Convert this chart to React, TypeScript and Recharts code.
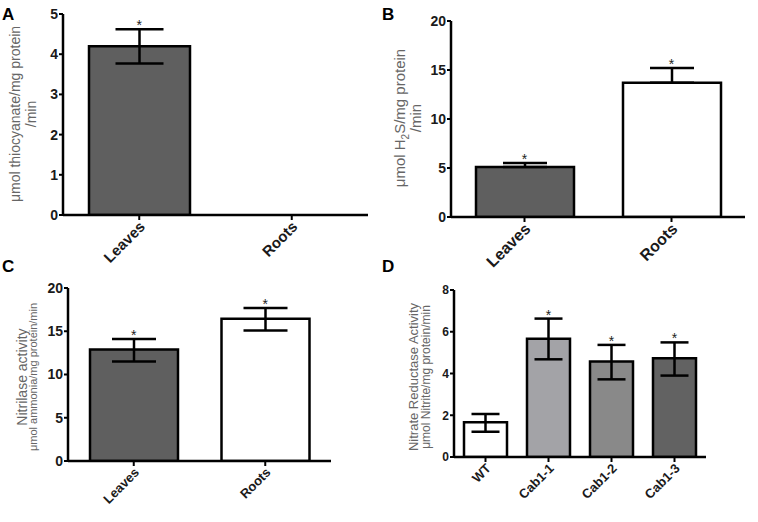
import React from "react";
import {
  ComposedChart,
  Bar,
  Cell,
  ErrorBar,
  Scatter,
  XAxis,
  YAxis,
  Customized,
} from "recharts";

const FONT = "'Liberation Sans', Arial, Helvetica, sans-serif";

// A - thiocyanate forming activity
const tissues = ["Leaves", "Roots"];
const thioMean = [4.2, 0];
const thioErrLo = [0.43, null];
const thioErrHi = [0.42, null];
const thioStar = [true, false];

// B - H2S release
const h2sMean = [5.1, 13.7];
const h2sErrLo = [0, 0];
const h2sErrHi = [0.4, 1.5];
const h2sStar = [true, true];

// C - nitrilase
const nitMean = [12.9, 16.45];
const nitErrLo = [1.4, 1.35];
const nitErrHi = [1.2, 1.25];
const nitStar = [true, true];

// D - nitrate reductase
const lines = ["WT", "Cab1-1", "Cab1-2", "Cab1-3"];
const nrMean = [1.66, 5.67, 4.57, 4.73];
const nrErrLo = [0.45, 0.99, 0.85, 0.83];
const nrErrHi = [0.4, 0.96, 0.8, 0.76];
const nrStar = [false, true, true, true];

const DARK = "#5f5f5f";
const fillsAB = [DARK, "#ffffff"];
const fillsD = ["#ffffff", "#a3a3a7", "#898989", "#626262"];

type Row = { name: string; v: number; err: number[] | null; star: number | null };

function rows(
  names: string[],
  mean: number[],
  lo: (number | null)[],
  hi: (number | null)[],
  star: boolean[]
): Row[] {
  return names.map((name, i) => ({
    name,
    v: mean[i],
    err: lo[i] == null || hi[i] == null ? null : [lo[i] as number, hi[i] as number],
    star: star[i] ? mean[i] + ((hi[i] as number) || 0) : null,
  }));
}

function SlantTick(props: any) {
  const { x, y, payload, fontSize } = props;
  const ax = x + 3;
  return (
    <text
      x={ax}
      y={y}
      transform={`rotate(-45 ${ax} ${y})`}
      textAnchor="end"
      dy="0.35em"
      fontSize={fontSize}
      fontWeight="bold"
      fontFamily={FONT}
      fill="#1a1a1a"
    >
      {payload.value}
    </text>
  );
}

function StarMark(props: any) {
  const { cx, cy, payload } = props;
  if (cy == null || payload.star == null) return null;
  return (
    <text x={cx} y={cy + 1} textAnchor="middle" fontSize={14} fontFamily={FONT} fill="#222">
      *
    </text>
  );
}

type LabelLine = { text: React.ReactNode; x: number; size: number };

function PanelText({ letter, ly, labels, labelY }: { letter: string; ly: number; labels: LabelLine[]; labelY: number }) {
  return (
    <g fontFamily={FONT}>
      <text x={2} y={ly} fontSize={17} fontWeight="bold" fill="#000">
        {letter}
      </text>
      {labels.map((l, i) => (
        <text
          key={i}
          x={l.x}
          y={labelY}
          transform={`rotate(-90 ${l.x} ${labelY})`}
          textAnchor="middle"
          dy="0.35em"
          fontSize={l.size}
          fill="#666"
        >
          {l.text}
        </text>
      ))}
    </g>
  );
}

type PanelProps = {
  data: Row[];
  fills: string[];
  width: number;
  height: number;
  margin: { top: number; right: number; bottom: number; left: number };
  yWidth: number;
  xHeight: number;
  domain: [number, number];
  ticks: number[];
  yFont: number;
  xFont: number;
  barSize: number;
  cap: number;
  letter: string;
  letterY: number;
  labels: LabelLine[];
  labelY: number;
};

function Panel(p: PanelProps) {
  return (
    <ComposedChart width={p.width} height={p.height} data={p.data} margin={p.margin}>
      <XAxis
        dataKey="name"
        height={p.xHeight}
        axisLine={{ stroke: "#000", strokeWidth: 2.5 }}
        tickLine={{ stroke: "#000", strokeWidth: 2 }}
        tickSize={5}
        tickMargin={4}
        interval={0}
        tick={(t: any) => <SlantTick {...t} fontSize={p.xFont} />}
      />
      <YAxis
        width={p.yWidth}
        domain={p.domain}
        ticks={p.ticks}
        allowDataOverflow
        axisLine={{ stroke: "#000", strokeWidth: 2.5 }}
        tickLine={{ stroke: "#000", strokeWidth: 2 }}
        tickSize={4}
        tickMargin={1}
        tick={{ fontSize: p.yFont, fontWeight: "bold", fill: "#1a1a1a", fontFamily: FONT }}
      />
      <Bar dataKey="v" barSize={p.barSize} stroke="#000" strokeWidth={2.5} isAnimationActive={false}>
        {p.data.map((_, i) => (
          <Cell key={i} fill={p.fills[i % p.fills.length]} />
        ))}
        <ErrorBar dataKey="err" width={p.cap} stroke="#000" strokeWidth={2.5} isAnimationActive={false} />
      </Bar>
      <Scatter dataKey="star" shape={<StarMark />} isAnimationActive={false} />
      <Customized
        component={<PanelText letter={p.letter} ly={p.letterY} labels={p.labels} labelY={p.labelY} />}
      />
    </ComposedChart>
  );
}

export default function App() {
  const dataA = rows(tissues, thioMean, thioErrLo, thioErrHi, thioStar);
  const dataB = rows(tissues, h2sMean, h2sErrLo, h2sErrHi, h2sStar);
  const dataC = rows(tissues, nitMean, nitErrLo, nitErrHi, nitStar);
  const dataD = rows(lines, nrMean, nrErrLo, nrErrHi, nrStar);

  return (
    <div style={{ position: "absolute", left: 0, top: 0, width: 758, height: 522, background: "#fff" }}>
      <div style={{ position: "absolute", left: 0, top: 0 }}>
        <Panel
          data={dataA}
          fills={fillsAB}
          width={380}
          height={290}
          margin={{ top: 14, right: 12, bottom: 28, left: 0 }}
          yWidth={63}
          xHeight={47}
          domain={[0, 5]}
          ticks={[0, 1, 2, 3, 4, 5]}
          yFont={14}
          xFont={15}
          barSize={101}
          cap={24}
          letter="A"
          letterY={20}
          labels={[
            { text: "μmol thiocyanate/mg protein", x: 15, size: 14 },
            { text: "/min", x: 31, size: 14 },
          ]}
          labelY={114}
        />
      </div>
      <div style={{ position: "absolute", left: 380, top: 0 }}>
        <Panel
          data={dataB}
          fills={fillsAB}
          width={378}
          height={290}
          margin={{ top: 21, right: 13, bottom: 28, left: 0 }}
          yWidth={71}
          xHeight={45}
          domain={[0, 20]}
          ticks={[0, 5, 10, 15, 20]}
          yFont={14}
          xFont={16}
          barSize={98}
          cap={22}
          letter="B"
          letterY={20}
          labels={[
            {
              text: (
                <>
                  μmol H<tspan fontSize={10} dy={4}>2</tspan>
                  <tspan dy={-4}>S/mg protein</tspan>
                </>
              ),
              x: 20,
              size: 15,
            },
            { text: "/min", x: 36, size: 15 },
          ]}
          labelY={118}
        />
      </div>
      <div style={{ position: "absolute", left: 0, top: 250 }}>
        <Panel
          data={dataC}
          fills={fillsAB}
          width={380}
          height={272}
          margin={{ top: 38, right: 49, bottom: 0, left: 0 }}
          yWidth={68}
          xHeight={61}
          domain={[0, 20]}
          ticks={[0, 5, 10, 15, 20]}
          yFont={14}
          xFont={13}
          barSize={88}
          cap={22}
          letter="C"
          letterY={22}
          labels={[
            { text: "Nitrilase activity", x: 22, size: 14 },
            { text: "μmol ammonia/mg protein/min", x: 33, size: 11 },
          ]}
          labelY={127}
        />
      </div>
      <div style={{ position: "absolute", left: 380, top: 250 }}>
        <Panel
          data={dataD}
          fills={fillsD}
          width={378}
          height={272}
          margin={{ top: 40, right: 52, bottom: 0, left: 0 }}
          yWidth={74}
          xHeight={65}
          domain={[0, 8]}
          ticks={[0, 2, 4, 6, 8]}
          yFont={12}
          xFont={13}
          barSize={43}
          cap={14}
          letter="D"
          letterY={22}
          labels={[
            { text: "Nitrate Reductase Activity", x: 33, size: 13 },
            { text: "μmol Nitrite/mg protein/min", x: 46, size: 12 },
          ]}
          labelY={127}
        />
      </div>
    </div>
  );
}
